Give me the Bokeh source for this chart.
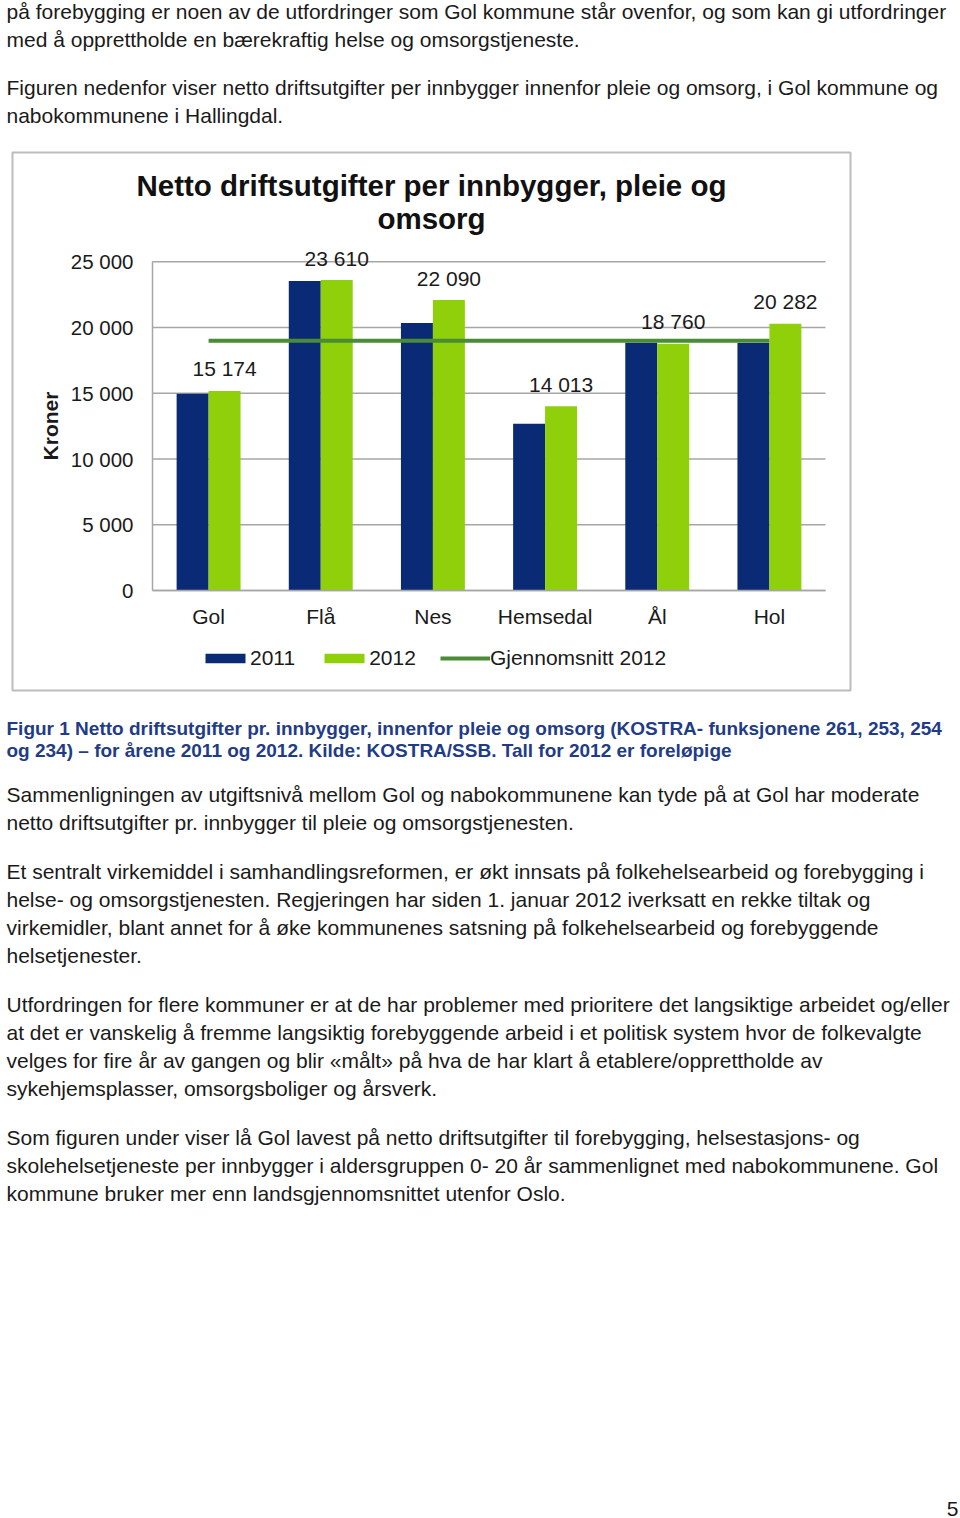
from bokeh.plotting import figure
from bokeh.models import (ColumnDataSource, Range1d, FixedTicker, Label,
                          Legend, LegendItem)
from bokeh.layouts import column
from bokeh.core.properties import value
from bokeh.embed import file_html
from bokeh.resources import INLINE

# ---------------- data ----------------
categories = ["Gol", "Flå", "Nes", "Hemsedal", "Ål", "Hol"]
values_2011 = [14970, 23540, 20340, 12690, 18850, 18820]
values_2012 = [15174, 23610, 22090, 14013, 18760, 20282]
average_2012 = [18988, 18988, 18988, 18988, 18988, 18988]
y_ticks = [0, 5000, 10000, 15000, 20000, 25000]
y_tick_labels = ["0", "5 000", "10 000", "15 000", "20 000", "25 000"]
labels_2012 = ["15 174", "23 610", "22 090", "14 013", "18 760", "20 282"]

title_line1 = "Netto driftsutgifter per innbygger, pleie og"
title_line2 = "omsorg"
y_label = "Kroner"
series_names = ["2011", "2012", "Gjennomsnitt 2012"]

top_lines = [
    "på forebygging er noen av de utfordringer som Gol kommune står ovenfor, og som kan gi utfordringer",
    "med å opprettholde en bærekraftig helse og omsorgstjeneste.",
    "Figuren nedenfor viser netto driftsutgifter per innbygger innenfor pleie og omsorg, i Gol kommune og",
    "nabokommunene i Hallingdal.",
]
caption_lines = [
    "Figur 1 Netto driftsutgifter pr. innbygger, innenfor pleie og omsorg (KOSTRA- funksjonene 261, 253, 254",
    "og 234) – for årene 2011 og 2012. Kilde: KOSTRA/SSB. Tall for 2012 er foreløpige",
]
body_lines = [
    "Sammenligningen av utgiftsnivå mellom Gol og nabokommunene kan tyde på at Gol har moderate",
    "netto driftsutgifter pr. innbygger til pleie og omsorgstjenesten.",
    "Et sentralt virkemiddel i samhandlingsreformen, er økt innsats på folkehelsearbeid og forebygging i",
    "helse- og omsorgstjenesten. Regjeringen har siden 1. januar 2012 iverksatt en rekke tiltak og",
    "virkemidler, blant annet for å øke kommunenes satsning på folkehelsearbeid og forebyggende",
    "helsetjenester.",
    "Utfordringen for flere kommuner er at de har problemer med prioritere det langsiktige arbeidet og/eller",
    "at det er vanskelig å fremme langsiktig forebyggende arbeid i et politisk system hvor de folkevalgte",
    "velges for fire år av gangen og blir «målt» på hva de har klart å etablere/opprettholde av",
    "sykehjemsplasser, omsorgsboliger og årsverk.",
    "Som figuren under viser lå Gol lavest på netto driftsutgifter til forebygging, helsestasjons- og",
    "skolehelsetjeneste per innbygger i aldersgruppen 0- 20 år sammenlignet med nabokommunene. Gol",
    "kommune bruker mer enn landsgjennomsnittet utenfor Oslo.",
]
page_number = "5"

FONT = "Liberation Sans"
NAVY = "#0B2A76"
LIME = "#8FD00A"
GREEN = "#4A8C36"
GRAYLINE = "#A6A6A6"
TEXT = "#1a1a1a"
BODY_SIZE = "21px"
W = 960


def text_fig(height):
    f = figure(width=W, height=height, x_range=Range1d(0, W), y_range=Range1d(height, 0),
               x_axis_type=None, y_axis_type=None, toolbar_location=None,
               output_backend="svg", min_border=0, frame_align=False)
    f.grid.visible = False
    f.outline_line_color = None
    return f


# ---------------- top text ----------------
top = text_fig(150)
top_y = [11, 39, 87, 115]
top.text(x=[6] * 4, y=top_y, text=top_lines, text_font=value(FONT), text_font_size=BODY_SIZE,
         text_color=TEXT, text_baseline="middle", text_align="left")

# ---------------- chart ----------------
n = len(categories)
pos = [i + 0.5 for i in range(n)]          # category centres on a numeric axis
BW = 0.285                                  # bar width (category units)
src = ColumnDataSource(dict(x=pos, x11=[c - BW / 2 for c in pos], x12=[c + BW / 2 for c in pos],
                            v11=values_2011, v12=values_2012, avg=average_2012, lab=labels_2012))

# chart box = plot frame; axes sit inside it (fixed_location)
PX_X = 673 / n          # pixels per category
PX_Y = 328.7 / 25000    # pixels per krone
p = figure(width=W, height=542,
           x_range=Range1d(-140 / PX_X, n + 25 / PX_X),
           y_range=Range1d(-100 / PX_Y, 25000 + 109.3 / PX_Y),
           toolbar_location=None, output_backend="svg",
           min_border_left=12, min_border_right=W - 850, min_border_top=2, min_border_bottom=2,
           frame_align=False)
p.outline_line_color = "#BDBDBD"
p.outline_line_width = 2
p.background_fill_color = "white"
p.border_fill_color = "white"
p.grid.visible = False

# horizontal gridlines limited to the plot area
p.segment(x0=[0] * len(y_ticks), x1=[n] * len(y_ticks), y0=y_ticks, y1=y_ticks,
          line_color=GRAYLINE, line_width=1.5)

r11 = p.vbar(x="x11", top="v11", width=BW, source=src, fill_color=NAVY, line_color=None)
r12 = p.vbar(x="x12", top="v12", width=BW, source=src, fill_color=LIME, line_color=None)
ravg = p.line(x="x", y="avg", source=src, line_color=GREEN, line_width=4)

p.text(x="x12", y="v12", text="lab", source=src,
       text_font=value(FONT), text_font_size="21px", text_color=TEXT,
       text_align="center", text_baseline="alphabetic", y_offset=-22)

# axes
p.yaxis.fixed_location = 0
p.yaxis.bounds = (0, 25000)
p.yaxis.ticker = FixedTicker(ticks=y_ticks)
p.yaxis.major_label_overrides = {t: l for t, l in zip(y_ticks, y_tick_labels)}
p.yaxis.major_tick_line_color = None
p.yaxis.minor_tick_line_color = None
p.yaxis.major_tick_out = 0
p.yaxis.major_tick_in = 0
p.yaxis.major_label_standoff = 19
p.yaxis.axis_line_color = GRAYLINE
p.yaxis.axis_line_width = 1.5
p.yaxis.major_label_text_font = FONT
p.yaxis.major_label_text_font_size = "20.5px"
p.yaxis.major_label_text_color = TEXT
p.yaxis.axis_label = y_label
p.yaxis.axis_label_text_font = FONT
p.yaxis.axis_label_text_font_size = "21px"
p.yaxis.axis_label_text_font_style = "bold"
p.yaxis.axis_label_text_color = TEXT
p.yaxis.axis_label_standoff = 6

p.xaxis.fixed_location = 0
p.xaxis.bounds = (0, n)
p.xaxis.ticker = FixedTicker(ticks=pos)
p.xaxis.major_label_overrides = {c: name for c, name in zip(pos, categories)}
p.xaxis.major_tick_line_color = None
p.xaxis.minor_tick_line_color = None
p.xaxis.major_tick_out = 0
p.xaxis.major_tick_in = 0
p.xaxis.major_label_standoff = 14
p.xaxis.axis_line_color = GRAYLINE
p.xaxis.axis_line_width = 1.5
p.xaxis.major_label_text_font = FONT
p.xaxis.major_label_text_font_size = "21px"
p.xaxis.major_label_text_color = TEXT

# title: two centred lines over the chart box
for txt, yy in [(title_line1, 505), (title_line2, 472)]:
    p.add_layout(Label(x=419, y=yy, x_units="screen", y_units="screen", text=txt,
                       text_font=FONT, text_font_size="29.5px", text_font_style="bold",
                       text_color="#111111", text_align="center", text_baseline="middle"))

# legend
legend = Legend(items=[LegendItem(label=series_names[0], renderers=[r11]),
                       LegendItem(label=series_names[1], renderers=[r12]),
                       LegendItem(label=series_names[2], renderers=[ravg])],
                orientation="horizontal", location=(188, 20),
                glyph_width=50, glyph_height=12, label_standoff=0, spacing=24,
                padding=0, margin=0, border_line_color=None, background_fill_alpha=0,
                label_text_font=FONT, label_text_font_size="21px", label_text_color=TEXT)
p.add_layout(legend, "center")

# ---------------- bottom text ----------------
bottom = text_fig(826)
# page y = 692 + fig y
cap_y = [36, 58]
bottom.text(x=[6] * 2, y=cap_y, text=caption_lines, text_font=value(FONT), text_font_size="19px",
            text_font_style="bold", text_color="#1F3C88", text_baseline="middle", text_align="left")
body_y = [102, 130, 179, 207, 235, 263, 312, 340, 368, 396, 445, 473, 501]
bottom.text(x=[6] * len(body_lines), y=body_y, text=body_lines, text_font=value(FONT),
            text_font_size=BODY_SIZE, text_color=TEXT, text_baseline="middle", text_align="left")
bottom.text(x=[958], y=[816], text=[page_number], text_font=value(FONT), text_font_size=BODY_SIZE,
            text_color=TEXT, text_baseline="middle", text_align="right")

layout = column(top, p, bottom, spacing=0)
open("out.html", "w").write(file_html(layout, INLINE))
